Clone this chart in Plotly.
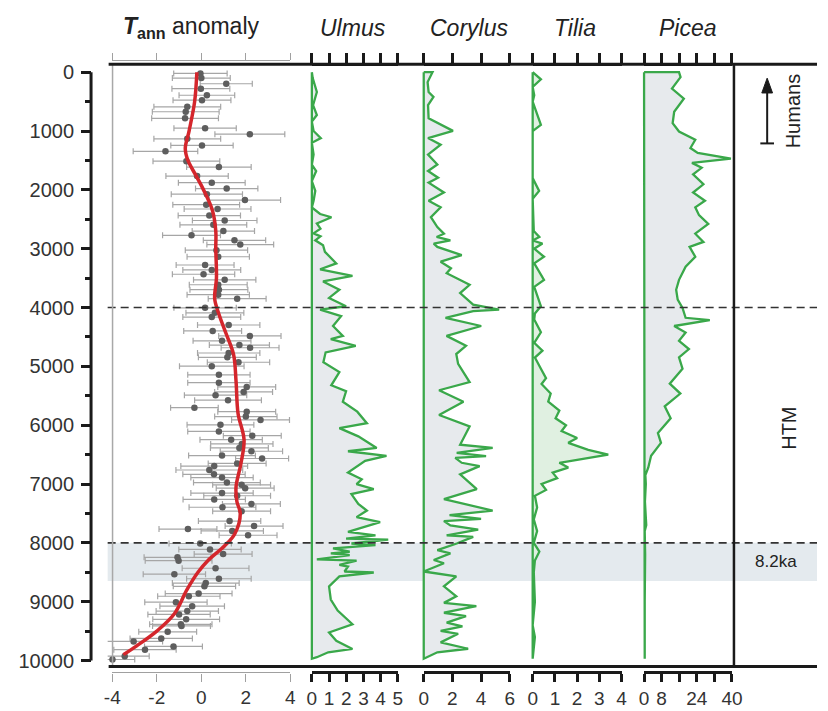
import plotly.graph_objects as go

# ---------------- data ----------------
temp_age = [20, 100, 196, 280, 392, 476, 588, 672, 784, 952,
            1053, 1132, 1244, 1345, 1513, 1613, 1765, 1877, 1978, 2073,
            2173, 2252, 2325, 2437, 2521, 2594, 2700, 2773, 2857, 2930,
            3025, 3137, 3277, 3361, 3434, 3529, 3613, 3697, 3781, 3849,
            4005, 4090, 4163, 4297, 4398, 4482, 4566, 4639, 4684, 4773,
            4846, 4930, 4997, 5143, 5277, 5350, 5434, 5490, 5575, 5703,
            5770, 5854, 5910, 5994, 6106, 6179, 6246, 6319, 6387, 6443,
            6516, 6566, 6650, 6695, 6762, 6835, 6891, 6975, 7014, 7070,
            7154, 7199, 7261, 7339, 7395, 7462, 7630, 7714, 7765, 7798,
            7871, 8011, 8112, 8190, 8246, 8303, 8432, 8532, 8610, 8684,
            8739, 8863, 8908, 9008, 9076, 9160, 9216, 9300, 9384, 9412,
            9513, 9625, 9675, 9760, 9815, 9927, 9983]
temp_val = [-0.04, 0.00, 1.12, -0.02, 0.25, 0.03, -0.63, -0.70, -0.73, 0.17,
            2.18, -0.63, 0.03, -1.61, -0.67, 0.79, -0.19, 0.47, 1.14, 0.25,
            1.96, 0.22, 0.73, 0.36, 1.05, 0.54, 0.99, -0.44, 1.49, 1.75,
            0.68, 0.76, 0.17, 0.47, 0.10, 1.05, 0.76, 0.79, 0.76, 1.61,
            0.17, 0.61, 0.47, 1.23, 0.51, 2.18, 0.93, 1.71, 2.19, 1.23,
            1.17, 1.67, 0.47, 0.79, 0.79, 2.04, 1.90, 0.64, 1.20, -0.31,
            2.04, 2.00, 2.66, 0.86, 0.79, 2.29, 1.34, 1.82, 1.71, 2.25,
            0.93, 2.73, 1.61, 0.58, 0.36, 0.57, 0.93, 1.15, 1.81, 1.97,
            0.93, 1.61, 0.58, 2.25, 0.95, 1.81, 1.27, 2.37, -0.60, 1.39,
            2.10, -0.05, 0.39, 0.98, -1.07, -1.02, 0.64, -1.21, 0.79, 0.20,
            0.14, -0.12, -0.56, -1.14, -0.41, -0.63, -1.00, -0.68, -0.92, -0.89,
            -1.51, -1.80, -3.04, -1.25, -2.53, -3.44, -3.99]
temp_err = [1.20, 1.30, 1.17, 1.30, 1.25, 1.30, 1.50, 1.50, 1.50, 1.40,
            1.57, 1.50, 1.40, 1.45, 1.50, 1.45, 1.40, 1.50, 1.40, 1.60,
            1.60, 1.50, 1.50, 1.40, 1.45, 1.50, 1.40, 1.30, 1.40, 1.50,
            1.40, 1.40, 1.30, 1.30, 1.40, 1.40, 1.30, 1.30, 1.40, 1.30,
            1.40, 1.30, 1.30, 1.40, 1.30, 1.40, 1.30, 1.35, 1.30, 1.40,
            1.30, 1.40, 1.45, 1.40, 1.40, 1.30, 1.30, 1.40, 1.50, 1.07,
            1.30, 1.40, 1.30, 1.50, 1.40, 1.30, 1.40, 1.40, 1.30, 1.40,
            1.50, 1.19, 1.30, 1.50, 1.50, 1.40, 1.40, 1.50, 1.30, 1.30,
            1.40, 1.50, 1.40, 1.30, 1.50, 1.30, 1.40, 1.30, 1.30, 1.40,
            1.30, 1.40, 1.40, 1.30, 1.50, 1.50, 1.50, 1.40, 1.45, 1.50,
            1.40, 1.50, 1.40, 1.40, 1.45, 1.40, 1.40, 1.50, 1.40, 1.30,
            1.30, 1.40, 1.30, 1.30, 1.40, 1.10, 1.00]

smooth_age = [0, 500, 1000, 1300, 1500, 1750, 2000, 2350, 2700, 3000, 3500, 3850,
              4100, 4450, 4800, 5250, 5800, 6250, 6650, 7050, 7300, 7500, 7850,
              8050, 8300, 8500, 8800, 9200, 9500, 9750, 9900]
smooth_val = [-0.2, -0.3, -0.55, -0.72, -0.6, -0.25, 0.1, 0.5, 0.65, 0.65, 0.68, 0.6,
              0.78, 1.12, 1.45, 1.56, 1.65, 1.92, 1.78, 1.56, 1.6, 1.75, 1.5,
              1.05, 0.3, -0.15, -0.65, -1.2, -2.0, -2.9, -3.5]

ulmus_age = [0, 100, 336, 560, 728, 840, 1000, 1120, 1200, 1400, 1570, 1680, 1850,
             2016, 2185, 2300, 2410, 2465, 2570, 2660, 2740, 2790, 2857, 2940, 3053,
             3250, 3350, 3462, 3557, 3697, 3837, 3978, 4034, 4146, 4314, 4482, 4538,
             4650, 4762, 4930, 5098, 5322, 5423, 5600, 5770, 5966, 6050, 6190, 6387,
             6443, 6521, 6605, 6806, 6919, 7003, 7087, 7171, 7339, 7451, 7563, 7647,
             7815, 7871, 7927, 7944, 8011, 8039, 8095, 8151, 8179, 8207, 8280, 8303,
             8375, 8403, 8487, 8504, 8571, 8739, 8963, 9150, 9384, 9524, 9664, 9804,
             9860, 9944, 9970]
ulmus_pct = [0.0, 0.05, 0.29, 0.07, 0.29, 0.0, 0.1, 0.52, 0.0, 0.1, 0.0, 0.25, 0.0,
             0.2, 0.1, 0.0, 0.48, 1.14, 0.29, 0.5, 0.1, 0.5, 0.2, 0.65, 0.76,
             1.42, 0.48, 2.36, 0.65, 1.6, 1.0, 1.99, 0.48, 1.7, 1.23, 1.8, 1.1,
             2.55, 0.8, 0.67, 1.6, 1.13, 1.99, 1.8, 2.64, 3.2, 1.6, 2.7, 3.77,
             2.1, 4.34, 3.1, 2.1, 2.9, 2.6, 3.6, 2.3, 2.7, 3.2, 2.6, 3.97,
             2.1, 3.7, 1.99, 4.44, 2.3, 3.7, 1.23, 2.2, 1.1, 2.2, 0.29, 2.6,
             1.6, 2.1, 1.9, 3.6, 1.6, 1.0, 1.1, 1.5, 2.36, 1.0, 1.42, 2.36,
             0.95, 0.29, 0.0]

corylus_age = [0, 168, 336, 420, 560, 785, 997, 1120, 1232, 1400, 1568, 1680, 1793,
               1877, 2045, 2185, 2297, 2465, 2633, 2745, 2800, 2857, 2913, 2969, 3109,
               3221, 3333, 3417, 3613, 3754, 3950, 4034, 4062, 4174, 4314, 4482, 4650,
               4790, 4958, 5266, 5406, 5602, 5826, 6022, 6331, 6387, 6470, 6527, 6555,
               6639, 6695, 6835, 7087, 7255, 7451, 7530, 7591, 7630, 7703, 7776, 7871,
               7899, 8011, 8123, 8179, 8291, 8347, 8487, 8571, 8739, 8908, 9020, 9076,
               9188, 9244, 9356, 9420, 9496, 9546, 9692, 9800, 9860, 9916, 9970]
corylus_pct = [0.61, 0.27, 0.34, 0.68, 0.3, 0.34, 2.04, 0.3, 1.18, 0.3, 0.95, 0.3, 1.0,
               0.34, 1.41, 0.34, 1.18, 0.5, 0.95, 1.41, 0.9, 1.86, 0.7, 0.95, 2.65,
               1.18, 1.9, 1.6, 3.2, 2.54, 3.45, 5.26, 3.45, 1.52, 4.01, 1.59, 2.95,
               2.27, 2.4, 3.2, 1.07, 2.77, 1.07, 3.2, 2.54, 4.81, 2.3, 4.35, 2.2,
               2.65, 3.9, 2.54, 3.7, 1.41, 4.81, 1.8, 4.0, 1.41, 1.86, 3.8, 1.6,
               3.45, 2.3, 0.95, 1.86, 0.7, 1.41, 0.0, 2.27, 1.41, 2.27, 1.41, 3.67,
               1.41, 2.95, 1.6, 2.7, 1.18, 2.4, 1.18, 3.1, 0.95, 0.5, 0.0]

tilia_age = [0, 120, 250, 392, 500, 896, 1000, 1800, 2017, 2150, 2700, 2800, 2860,
             2913, 3000, 3137, 3249, 3400, 3529, 3650, 3800, 3978, 4100, 4202, 4420,
             4600, 4734, 4850, 5042, 5200, 5300, 5462, 5600, 5750, 5882, 6000, 6100,
             6218, 6300, 6420, 6500, 6560, 6639, 6720, 6807, 6900, 7000, 7100, 7200,
             7400, 7600, 7800, 8000, 8150, 8300, 8500, 9000, 9400, 9600, 9970]
tilia_pct = [0.0, 0.37, 0.0, 0.07, 0.0, 0.37, 0.0, 0.0, 0.29, 0.0, 0.05, 0.3, 0.0,
             0.44, 0.07, 0.51, 0.07, 0.3, 0.51, 0.07, 0.2, 0.37, 0.1, 0.07, 0.37,
             0.07, 0.44, 0.1, 0.37, 0.6, 0.4, 0.81, 0.7, 1.2, 1.03, 1.5, 1.3,
             2.0, 1.6, 2.5, 3.4, 2.4, 1.2, 1.6, 0.9, 1.1, 0.4, 0.6, 0.1,
             0.2, 0.05, 0.2, 0.05, 0.3, 0.1, 0.05, 0.1, 0.0, 0.1, 0.0]

picea_age = [0, 84, 280, 448, 672, 868, 1008, 1148, 1289, 1373, 1468, 1541, 1625,
             1737, 1905, 2045, 2185, 2297, 2430, 2577, 2745, 2885, 2969, 3137, 3305,
             3529, 3697, 3866, 4006, 4174, 4213, 4314, 4426, 4566, 4706, 4846, 5040,
             5294, 5462, 5680, 5882, 6134, 6300, 6521, 6723, 6850, 7000, 7300, 7700,
             7800, 8200, 9000, 9970]
picea_pct = [15.9, 16.6, 12.7, 18.1, 13.7, 13.0, 15.9, 23.3, 21.1, 24.4, 39.5, 21.8, 26.2,
             22.3, 27.0, 22.3, 27.7, 23.3, 25.0, 29.2, 23.3, 27.0, 20.7, 23.3, 18.9,
             15.9, 14.6, 15.3, 17.5, 18.9, 29.9, 13.7, 18.9, 15.9, 20.4, 15.9, 17.5,
             11.7, 16.5, 9.4, 12.1, 6.3, 7.7, 3.2, 1.9, 0.6, 0.8, 0.4, 1.0,
             0.3, 0.5, 0.3, 0.3]

y_ticks = [0, 1000, 2000, 3000, 4000, 5000, 6000, 7000, 8000, 9000, 10000]
temp_ticks = [-4, -2, 0, 2, 4]
temp_ticklabels = ['-4', '-2', '0', '2', '4']
ulmus_ticks = [0, 1, 2, 3, 4, 5]
corylus_ticks = [0, 2, 4, 6]
tilia_ticks = [0, 1, 2, 3, 4]
picea_ticks = [0, 8, 24, 40]
picea_minor_ticks = [16, 32]
event_lines = [4000, 8000]
band_82ka = [8000, 8650]

# ---------------- geometry helpers ----------------
W, H = 828, 711
FONT = "Liberation Sans, Arial, sans-serif"


def px(x):
    return x / W


def py(y):
    return 1 - y / H


Y0PX, Y1PX = 70.0, 665.0           # pixel rows of year 0 and year 10000
KY = (Y1PX - Y0PX) / 10000.0
TOP_PX, BOT_PX = 62.0, 671.0
yr_top = (TOP_PX - Y0PX) / KY
yr_bot = (BOT_PX - Y0PX) / KY

GREEN = '#3aa84a'
FILL = '#e7eaed'
INK = '#1a1a1a'

fig = go.Figure()

layout = dict(
    width=W, height=H, margin=dict(l=0, r=0, t=0, b=0),
    paper_bgcolor='white', plot_bgcolor='rgba(0,0,0,0)', showlegend=False,
    font=dict(family=FONT, color='#333333'),
)
layout['yaxis'] = dict(
    domain=[py(BOT_PX), py(TOP_PX)], range=[yr_bot, yr_top], autorange=False,
    anchor='free', position=px(85), side='left', showgrid=False, zeroline=False,
    showline=False, ticks='outside', ticklen=10, tickwidth=2.5, tickcolor=INK,
    tickvals=y_ticks, tickformat='d', tickfont=dict(size=20, color='#333333'),
    ticklabelstandoff=3,
    minor=dict(ticks='outside', ticklen=6, tickwidth=2.5, tickcolor=INK,
               tickmode='linear', tick0=500, dtick=1000),
)

# panels: name, pixel of vmin, pixel of vmax, vmin, vmax, data-domain px, ticks, labels, minor
panels = [
    ('temp', 106.7, 289.0, -4, 4, 102, 300, temp_ticks, temp_ticklabels, None),
    ('ulmus', 311.0, 399.0, 0, 5, 305, 404, ulmus_ticks, None, None),
    ('corylus', 425.5, 513.5, 0, 6, 419, 519, corylus_ticks, None, None),
    ('tilia', 537.0, 628.0, 0, 4, 531, 634, tilia_ticks, None, None),
    ('picea', 651.0, 741.0, 0, 40, 645, 742, picea_ticks, None, picea_minor_ticks),
]

axref = {}
for i, (name, p0, p1, vmin, vmax, d0, d1, tv, tt, mtv) in enumerate(panels):
    n = 3 * i + 1
    scale = (p1 - p0) / (vmax - vmin)
    r0 = vmin - (p0 - d0) / scale
    r1 = vmax + (d1 - p1) / scale
    ids = [n, n + 1, n + 2]
    keys = ['xaxis' if k == 1 else f'xaxis{k}' for k in ids]
    refs = ['x' if k == 1 else f'x{k}' for k in ids]
    axref[name] = refs[0]
    is_temp = name == 'temp'
    lc = '#a0a0a0' if is_temp else INK
    lw = 1.3 if is_temp else 2.5
    # data axis (invisible, slightly wider than the drawn scale)
    layout[keys[0]] = dict(domain=[px(d0), px(d1)], range=[r0, r1], autorange=False,
                           visible=False, anchor='y', showgrid=False, zeroline=False)
    # bottom scale
    bottom = dict(domain=[px(p0), px(p1)], range=[vmin, vmax], autorange=False,
                  anchor='free', position=py(677), side='bottom',
                  showgrid=False, zeroline=False, showline=True,
                  linecolor=lc, linewidth=lw, ticks='outside',
                  ticklen=8, tickwidth=lw, tickcolor=lc, tickmode='array', tickvals=tv,
                  ticktext=tt if tt else [str(v) for v in tv],
                  tickfont=dict(size=19, color='#333333'))
    top = dict(domain=[px(p0), px(p1)], range=[vmin, vmax], autorange=False,
               anchor='free', position=py(57.5 if is_temp else TOP_PX),
               side='top', showgrid=False, zeroline=False, showline=True,
               linecolor=lc, linewidth=lw, ticks='outside',
               ticklen=7 if is_temp else 11, tickwidth=lw, tickcolor=lc,
               tickmode='array', tickvals=tv, showticklabels=False)
    if mtv:
        bottom['minor'] = dict(tickmode='array', tickvals=mtv, ticks='outside',
                               ticklen=8, tickwidth=lw, tickcolor=lc)
        top['minor'] = dict(tickmode='array', tickvals=mtv, ticks='outside',
                            ticklen=11, tickwidth=lw, tickcolor=lc)
    layout[keys[1]] = bottom
    layout[keys[2]] = top
    for r in refs[1:]:
        fig.add_trace(go.Scatter(x=[None], y=[None], xaxis=r, yaxis='y',
                                 mode='markers', hoverinfo='skip', showlegend=False))

# ---------------- temperature panel ----------------
fig.add_trace(go.Scatter(
    x=temp_val, y=temp_age, xaxis=axref['temp'], yaxis='y', mode='markers',
    marker=dict(size=6.5, color='#5e5e5e'),
    error_x=dict(type='data', array=temp_err, symmetric=True, color='#a6a6a6',
                 thickness=1.2, width=3),
    hoverinfo='skip'))
fig.add_trace(go.Scatter(
    x=smooth_val, y=smooth_age, xaxis=axref['temp'], yaxis='y', mode='lines',
    line=dict(color='#d4262c', width=3.5, shape='spline', smoothing=1.0),
    hoverinfo='skip'))

# ---------------- pollen panels ----------------
pollen = [('ulmus', ulmus_age, ulmus_pct, FILL),
          ('corylus', corylus_age, corylus_pct, FILL),
          ('tilia', tilia_age, tilia_pct, '#e0f0e1'),
          ('picea', picea_age, picea_pct, FILL)]
for name, ages, vals, fc in pollen:
    xs = [0] + list(vals) + [0, 0]
    ys = [ages[0]] + list(ages) + [ages[-1], ages[0]]
    fig.add_trace(go.Scatter(
        x=xs, y=ys, xaxis=axref[name], yaxis='y', mode='lines', fill='toself',
        fillcolor=fc, line=dict(color=GREEN, width=2.3), hoverinfo='skip'))

# ---------------- shapes ----------------
shapes = []
shapes.append(dict(type='rect', xref='paper', yref='y', x0=px(102), x1=1,
                   y0=band_82ka[0], y1=band_82ka[1], fillcolor='#e4eaee',
                   line=dict(width=0), layer='below'))
for yl in event_lines:
    shapes.append(dict(type='line', xref='paper', yref='y', x0=px(102), x1=1,
                       y0=yl, y1=yl, line=dict(color='#333333', width=1.6,
                                               dash='8px,5px'), layer='above'))
# temperature left grey line
shapes.append(dict(type='line', xref='paper', yref='paper', x0=px(107), x1=px(107),
                   y0=py(BOT_PX), y1=py(TOP_PX), line=dict(color='#a8a8a8', width=1.5)))
# frame
shapes.append(dict(type='line', xref='paper', yref='paper', x0=px(103), x1=1,
                   y0=py(TOP_PX), y1=py(TOP_PX), line=dict(color=INK, width=3)))
shapes.append(dict(type='line', xref='paper', yref='paper', x0=px(103), x1=1,
                   y0=py(BOT_PX), y1=py(BOT_PX), line=dict(color=INK, width=3)))
shapes.append(dict(type='line', xref='paper', yref='paper', x0=px(743), x1=px(743),
                   y0=py(BOT_PX), y1=py(TOP_PX), line=dict(color=INK, width=2.5)))
# left age axis line
shapes.append(dict(type='line', xref='paper', yref='y', x0=px(85), x1=px(85),
                   y0=0, y1=10000, line=dict(color=INK, width=3)))
# Humans arrow: shaft, tail bar and head
shapes.append(dict(type='line', xref='paper', yref='paper', x0=px(777), x1=px(777),
                   y0=py(142), y1=py(88), line=dict(color=INK, width=2)))
shapes.append(dict(type='line', xref='paper', yref='paper', x0=px(770), x1=px(784),
                   y0=py(142), y1=py(142), line=dict(color=INK, width=2)))
shapes.append(dict(type='path', xref='paper', yref='paper',
                   path=f'M {px(771.5)},{py(91)} L {px(777)},{py(76)} L {px(782.5)},{py(91)} Z',
                   fillcolor=INK, line=dict(color=INK, width=1)))
layout['shapes'] = shapes

# ---------------- annotations ----------------
ann = []
titles = [
    ('<b><i>T</i></b><sub><b>ann</b></sub> anomaly', 188),
    ('<i>Ulmus</i>', 353),
    ('<i>Corylus</i>', 472),
    ('<i>Tilia</i>', 580),
    ('<i>Picea</i>', 696),
]
for txt, xc in titles:
    ann.append(dict(text=txt, x=px(xc), y=py(25), xref='paper', yref='paper',
                    showarrow=False, xanchor='center', yanchor='middle',
                    font=dict(size=23, color='#222222', family=FONT)))
ann.append(dict(text='Humans', x=px(803), y=py(110), xref='paper', yref='paper',
                showarrow=False, textangle=-90, xanchor='center', yanchor='middle',
                font=dict(size=20, color='#222222', family=FONT)))
ann.append(dict(text='HTM', x=px(800), y=py(430), xref='paper', yref='paper',
                showarrow=False, textangle=-90, xanchor='center', yanchor='middle',
                font=dict(size=20, color='#222222', family=FONT)))
ann.append(dict(text='8.2ka', x=px(786), y=py(565), xref='paper', yref='paper',
                showarrow=False, xanchor='center', yanchor='middle',
                font=dict(size=17, color='#222222', family=FONT)))
layout['annotations'] = ann

fig.update_layout(**layout)
fig.write_html("out.html", config={'displayModeBar': False},
               post_script="document.body.style.margin='0';document.body.style.padding='0';")
